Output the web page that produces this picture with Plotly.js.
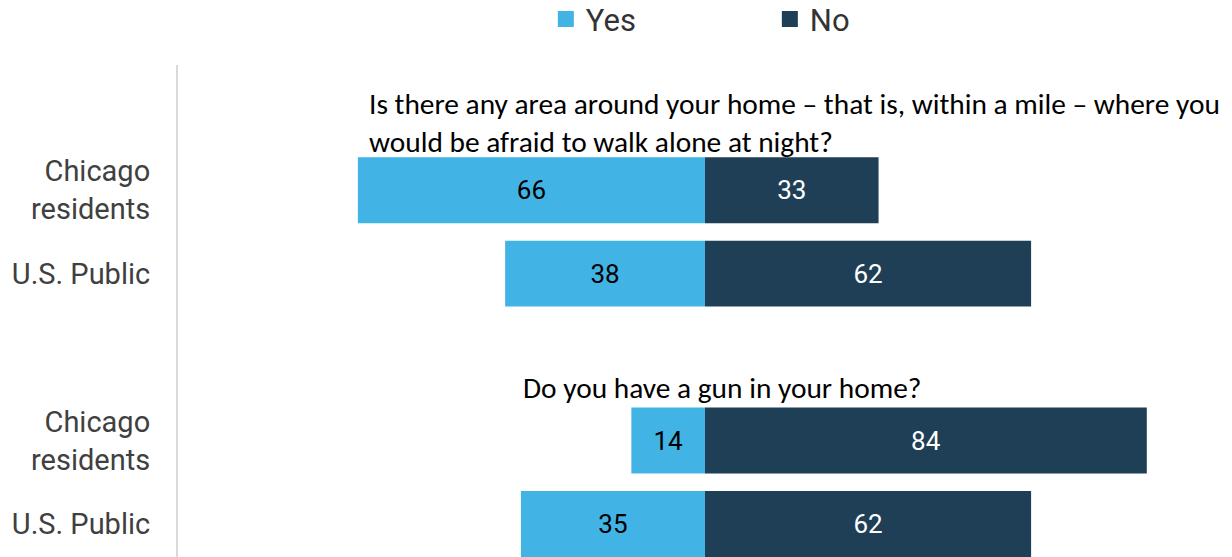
<!DOCTYPE html>
<html>
<head>
<meta charset="utf-8">
<script src="https://cdn.plot.ly/plotly-3.0.1.min.js"></script>
<style>html,body{margin:0;padding:0;background:#fff;}#chart{width:1232px;height:557px;}</style>
</head>
<body>
<div id="chart"></div>
<script>
// ---- data ----
const questions = [
  "Is there any area around your home – that is, within a mile – where you<br>would be afraid to walk alone at night?",
  "Do you have a gun in your home?"
];
const rowLabels = ["Chicago<br>residents", "U.S. Public"];
const yesVals = [[66, 38], [14, 35]];
const noVals = [[33, 62], [84, 62]];
const seriesNames = ["Yes", "No"];
const colors = {Yes: "#41B4E5", No: "#1F3F57"};

// ---- build rows (header slot + 2 rows per question) ----
const yPos = [], yLabels = [], yes = [], no = [];
questions.forEach((q, g) => {
  rowLabels.forEach((lab, k) => {
    yPos.push(g * 3 + k + 1);
    yLabels.push(lab);
    yes.push(yesVals[g][k]);
    no.push(noVals[g][k]);
  });
});

const barW = 0.79;
const traces = [
  {
    type: "bar", orientation: "h", name: "Yes", showlegend: false,
    y: yPos, x: yes.map(v => -v), text: yes.map(String),
    textposition: "inside", insidetextanchor: "middle",
    textfont: {family: "Roboto", size: 26, color: "#000000"},
    marker: {color: colors.Yes}, width: barW, hoverinfo: "skip"
  },
  {
    type: "bar", orientation: "h", name: "No", showlegend: false,
    y: yPos, x: no, text: no.map(String),
    textposition: "inside", insidetextanchor: "middle",
    textfont: {family: "Roboto", size: 26, color: "#ffffff"},
    marker: {color: colors.No}, width: barW, hoverinfo: "skip"
  }
];
// legend entries
seriesNames.forEach(n => traces.push({
  type: "scatter", mode: "markers", name: n, x: [null], y: [null],
  marker: {symbol: "square", size: 17, color: colors[n]}, hoverinfo: "skip"
}));

const qX = [-64.3, -35.0];
const qY = [0.19, 3.37];
const annotations = questions.map((q, g) => ({
  text: q, xref: "x", yref: "y", x: qX[g], y: qY[g],
  xanchor: "left", yanchor: "middle", align: "left", showarrow: false,
  font: {family: "Carlito, Lato, sans-serif", size: 29.4, color: "#000000"}
}));

const layout = {
  width: 1232, height: 557,
  margin: {l: 178, r: 0, t: 65, b: 0, autoexpand: false},
  paper_bgcolor: "#ffffff", plot_bgcolor: "#ffffff",
  barmode: "relative",
  font: {family: "Roboto", color: "#404040"},
  xaxis: {range: [-100.2, 100.2], visible: false, fixedrange: true},
  yaxis: {
    range: [5.395, -0.5], tickvals: yPos, ticktext: yLabels,
    showline: true, linecolor: "#d9d9d9", linewidth: 2,
    showgrid: false, zeroline: false,
    ticks: "outside", ticklen: 20, tickcolor: "rgba(0,0,0,0)",
    tickfont: {family: "Roboto", size: 29, color: "#404040"}
  },
  legend: {
    orientation: "h", x: 0.349, xanchor: "left", y: 1.093, yanchor: "middle",
    entrywidth: 179, entrywidthmode: "pixels",
    font: {family: "Roboto", size: 31, color: "#333333"}
  },
  annotations: annotations,
  showlegend: true
};

Plotly.newPlot("chart", traces, layout, {displayModeBar: false, staticPlot: true});
</script>
</body>
</html>
